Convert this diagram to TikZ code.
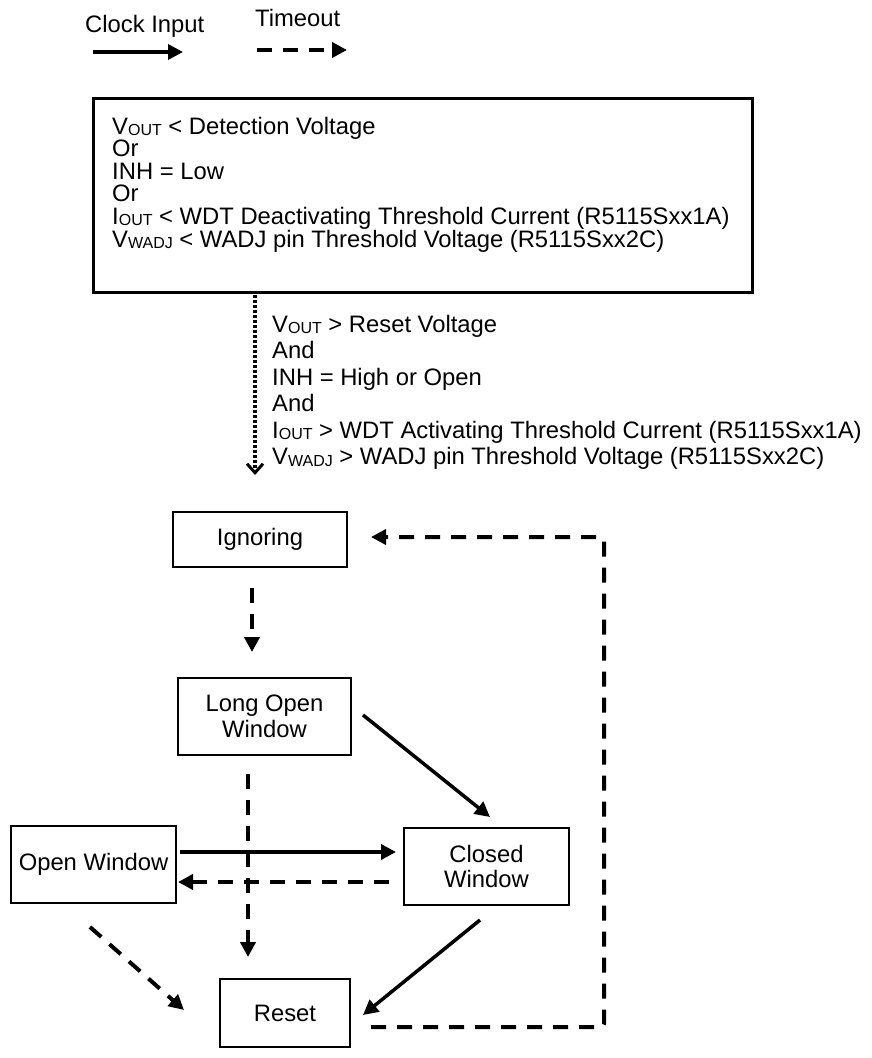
\documentclass[tikz,border=0pt]{standalone}
\usepackage{fontspec}
\setmainfont{Liberation Sans}
\usetikzlibrary{arrows.meta}
\newcommand\lsub[1]{\raisebox{-1.5pt}{\fontsize{16}{16}\selectfont #1}}
\begin{document}
\begin{tikzpicture}[x=1pt,y=-1pt,
  font=\fontsize{23.8}{24}\selectfont,
  txt/.style={anchor=base west, inner sep=0pt},
  state/.style={draw, line width=2pt, align=center, inner sep=0pt,
    font=\fontsize{23.8}{25.5}\selectfont},
  bigbox/.style={draw, line width=3pt, inner sep=0pt},
  clock/.style={line width=3.5pt, -{Triangle[length=15pt,width=15pt]}},
  timeout/.style={line width=4pt, dash pattern=on 15pt off 11pt, -{Triangle[length=15pt,width=15pt]}},
  dotline/.style={line width=3.5pt, dash pattern=on 3pt off 2pt,
    -{Straight Barb[length=9pt,width=16pt,line width=3pt]}}]
\useasboundingbox (0,0) rectangle (871,1058);

% legend
\node[txt] (lclk) at (85,32) {Clock Input};
\node[txt] (lto) at (255,26) {Timeout};
\coordinate (c1) at (93,52);
\coordinate (c2) at (183,52);
\coordinate (d1) at (257,50);
\coordinate (d2) at (347,50);
\draw[clock] (c1) -- (c2);
\draw[timeout] (d1) -- (d2);

% top box
\node[bigbox, minimum width=659pt, minimum height=194pt] (top) at (422.5,195) {};
\node[txt] (a1) at (112,134.0) {V\lsub{OUT} < Detection Voltage};
\node[txt] (a2) at (112,156.6) {Or};
\node[txt] (a3) at (112,179.2) {INH = Low};
\node[txt] (a4) at (112,201.8) {Or};
\node[txt] (a5) at (112,224.4) {I\lsub{OUT} < WDT Deactivating Threshold Current (R5115Sxx1A)};
\node[txt] (a6) at (112,247.0) {V\lsub{WADJ} < WADJ pin Threshold Voltage (R5115Sxx2C)};

% condition text
\node[txt] (b1) at (272,332.0) {V\lsub{OUT} > Reset Voltage};
\node[txt] (b2) at (272,358.5) {And};
\node[txt] (b3) at (272,385.0) {INH = High or Open};
\node[txt] (b4) at (272,411.5) {And};
\node[txt] (b5) at (272,438.0) {I\lsub{OUT} > WDT Activating Threshold Current (R5115Sxx1A)};
\node[txt] (b6) at (272,464.5) {V\lsub{WADJ} > WADJ pin Threshold Voltage (R5115Sxx2C)};

\coordinate (dotend) at (255,475);
\draw[dotline] ([yshift=-1.5pt]top.south -| dotend) -- (dotend);

% states
\node[state, minimum width=174pt, minimum height=55pt] (ign) at (260,539.5) {Ignoring};
\node[state, minimum width=173pt, minimum height=77pt] (lo) at (264.5,716.5) {Long Open\\Window};
\node[state, minimum width=165pt, minimum height=77pt] (ow) at (93.5,864.5) {Open Window};
\node[state, minimum width=165pt, minimum height=77pt] (cw) at (486.5,866.5) {Closed\\Window};
\node[state, minimum width=130pt, minimum height=68pt] (rs) at (285,1013) {Reset};

% connectors
\draw[timeout] ([xshift=-8pt,yshift=-20pt]ign.south) -- ([xshift=-12.5pt,yshift=25pt]lo.north);
\draw[clock] ([xshift=11pt,yshift=1.5pt]lo.east) -- ([xshift=3.5pt,yshift=10pt]cw.north);
\draw[timeout] ([xshift=-16.5pt,yshift=-18pt]lo.south) -- ([xshift=-37pt,yshift=21pt]rs.north);
\draw[clock] ([xshift=3pt,yshift=12.5pt]ow.east) -- ([xshift=-7pt,yshift=14.5pt]cw.west);
\draw[timeout] ([xshift=-14pt,yshift=-15.5pt]cw.west) -- ([xshift=1pt,yshift=-17.5pt]ow.east);
\draw[timeout] ([xshift=-3.5pt,yshift=-23pt]ow.south) -- ([xshift=-35pt,yshift=3pt]rs.west);
\draw[clock] ([xshift=-6.5pt,yshift=-14pt]cw.south) -- ([xshift=12pt,yshift=-2pt]rs.east);

\coordinate (rc) at (604,800);
\coordinate (rsA) at ([xshift=20pt,yshift=-14pt]rs.east);
\coordinate (ignB) at ([xshift=23pt,yshift=2.5pt]ign.east);
\draw[timeout, rounded corners=3pt] (rsA) -- (rsA -| rc) -- (ignB -| rc) -- (ignB);
\end{tikzpicture}
\end{document}
